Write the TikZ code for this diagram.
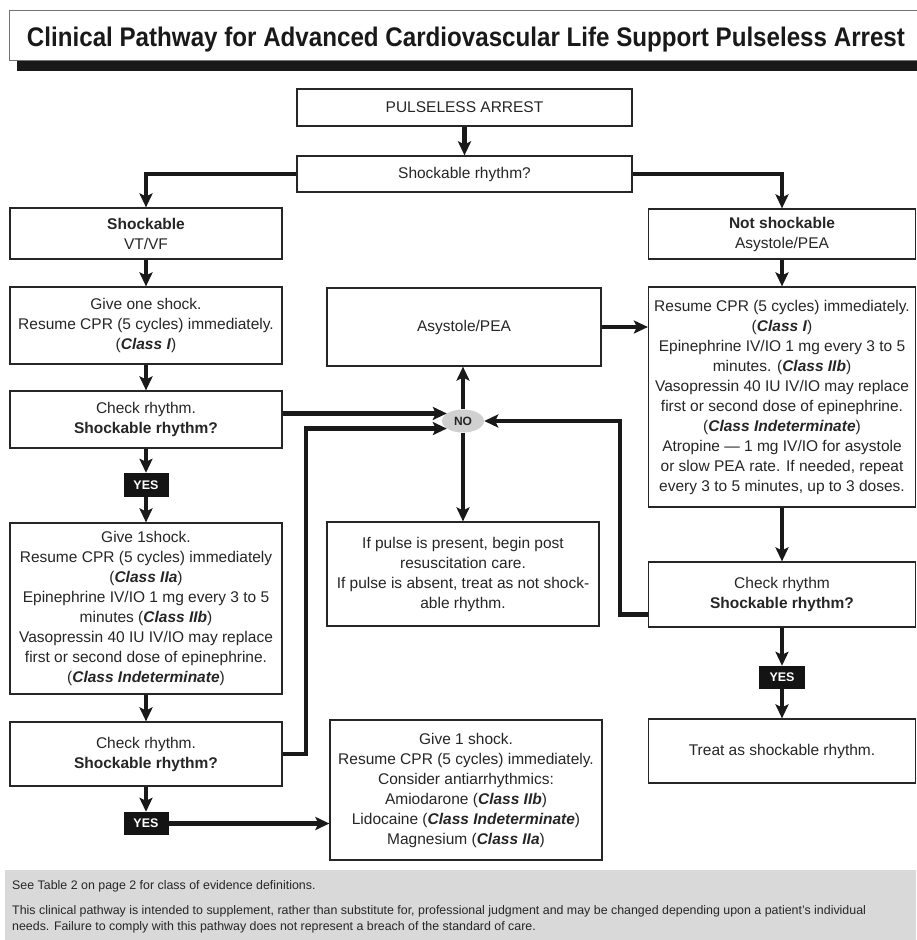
\documentclass[tikz,border=0pt]{standalone}
\usepackage{fontspec}
\setmainfont{Liberation Sans}
\usetikzlibrary{arrows.meta,shapes.geometric,calc}
\definecolor{ink}{HTML}{262626}
\definecolor{nogray}{HTML}{D0D0D0}
\definecolor{footgray}{HTML}{D9D9D9}
\newcommand{\bicls}[1]{\textbf{\textit{#1}}}
\newcommand{\bodyfont}{\fontsize{15.5pt}{20pt}\selectfont}
\tikzset{
  box/.style={draw=ink, line width=1.2pt, fill=white, align=center, text=ink,
    font=\bodyfont, inner sep=2pt, minimum width=272pt},
  yesbox/.style={fill=black!92, text=white, font=\fontsize{12.5pt}{14pt}\selectfont\bfseries,
    inner sep=0pt, minimum width=45pt, minimum height=24pt},
  nobox/.style={ellipse, fill=nogray, text=ink, font=\fontsize{12pt}{14pt}\selectfont\bfseries,
    inner sep=0pt, minimum width=42pt, minimum height=23pt},
  arr/.style={line width=4.2pt, draw=black!90, -{Stealth[length=14pt,width=13pt,inset=3pt]}},
  foot/.style={anchor=base west, inner sep=0pt, text=ink, font=\fontsize{12.4pt}{14pt}\selectfont}
}
\begin{document}
\begin{tikzpicture}[x=1pt,y=-1pt]
\useasboundingbox (0,0) rectangle (916,940);
% title
\fill[black!90] (17,20) rectangle (930,71);
\node[draw=black!55, line width=1pt, fill=white, minimum width=921pt, minimum height=50pt, inner sep=0pt] (titlebox) at (469.5,35) {};
\node[anchor=base, inner sep=0pt, text=black!90] (title) at (466,46)
  {\resizebox{878pt}{19.5pt}{\bfseries Clinical Pathway for Advanced Cardiovascular Life Support Pulseless Arrest}};
% nodes
\node[box, minimum width=335pt, minimum height=37pt] (pa) at (464.5,107.5) {PULSELESS ARREST};
\node[box, minimum width=335pt, minimum height=36pt] (sr) at (464.5,174) {Shockable rhythm?};
\node[box, minimum height=51pt] (sh) at (146,233.5) {\textbf{Shockable}\\VT/VF};
\node[box, minimum width=267pt, minimum height=50pt] (ns) at (782,234) {\textbf{Not shockable}\\Asystole/PEA};
\node[box, minimum height=77pt] (g1) at (146,325.5) {Give one shock.\\Resume CPR (5 cycles) immediately.\\(\bicls{Class I})};
\node[box, minimum height=57pt] (c1) at (146,419.5) {Check rhythm.\\\textbf{Shockable rhythm?}};
\node[yesbox] (y1) at (146,485) {YES};
\node[box, minimum height=171pt] (g2) at (146,608.5) {Give 1shock.\\Resume CPR (5 cycles) immediately\\(\bicls{Class IIa})\\Epinephrine IV/IO 1 mg every 3 to 5\\minutes (\bicls{Class IIb})\\Vasopressin 40 IU IV/IO may replace\\first or second dose of epinephrine.\\(\bicls{Class Indeterminate})};
\node[box, minimum height=64pt] (c2) at (146,754) {Check rhythm.\\\textbf{Shockable rhythm?}};
\node[yesbox, minimum height=23pt] (y2) at (146,823.5) {YES};
\node[box, minimum width=274pt, minimum height=78pt] (as) at (464,327) {Asystole/PEA};
\node[nobox] (no) at (463,421) {NO};
\node[box, minimum height=104pt] (ip) at (463,574) {If pulse is present, begin post\\resuscitation care.\\If pulse is absent, treat as not shock-\\able rhythm.};
\node[box, minimum width=267pt, minimum height=220pt] (rb) at (782,397) {Resume CPR (5 cycles) immediately.\\(\bicls{Class I})\\Epinephrine IV/IO 1 mg every 3 to 5\\minutes. (\bicls{Class IIb})\\Vasopressin 40 IU IV/IO may replace\\first or second dose of epinephrine.\\(\bicls{Class Indeterminate})\\Atropine — 1 mg IV/IO for asystole\\or slow PEA rate. If needed, repeat\\every 3 to 5 minutes, up to 3 doses.};
\node[box, minimum width=267pt, minimum height=65pt] (c3) at (782,594.5) {Check rhythm\\\textbf{Shockable rhythm?}};
\node[yesbox, minimum width=46pt, minimum height=23pt] (y3) at (782,677.5) {YES};
\node[box, minimum width=267pt, minimum height=64pt] (tr) at (782,751) {Treat as shockable rhythm.};
\node[box, minimum height=140pt] (g3) at (466,790) {Give 1 shock.\\Resume CPR (5 cycles) immediately.\\Consider antiarrhythmics:\\Amiodarone (\bicls{Class IIb})\\Lidocaine (\bicls{Class Indeterminate})\\Magnesium (\bicls{Class IIa})};
\coordinate (j1) at (306,0);
\coordinate (j2) at (620,0);
% connectors
\draw[arr] (pa) -- (sr);
\draw[arr] (sr.west) -| (sh.north);
\draw[arr] (sr.east) -| (ns.north);
\draw[arr] (sh) -- (g1);
\draw[arr] (g1) -- (c1);
\draw[arr] (c1) -- (y1);
\draw[arr] (y1) -- (g2);
\draw[arr] (g2) -- (c2);
\draw[arr] (c2) -- (y2);
\draw[arr] (y2.east) -- (y2.east -| g3.west);
\draw[arr] (c1.east |- no.155) -- (no.155);
\draw[arr] (c2.east) -| (j1 |- no.205) -- (no.205);
\draw[arr] (no.north) -- (no.north |- as.south);
\draw[arr] (no.south) -- (no.south |- ip.north);
\draw[arr] (as.east) -- (as.east -| rb.west);
\draw[arr] (ns) -- (rb);
\draw[arr] (rb) -- (c3);
\draw[arr] (c3) -- (y3);
\draw[arr] (y3) -- (tr);
\draw[arr] ($(c3.west)+(0,20)$) -| (j2 |- no.east) -- (no.east);
% footer
\fill[footgray] (5,870) rectangle (916,940);
\node[foot] (f1) at (12,889) {See Table 2 on page 2 for class of evidence definitions.};
\node[foot] (f2) at (12,914) {This clinical pathway is intended to supplement, rather than substitute for, professional judgment and may be changed depending upon a patient's individual};
\node[foot] (f3) at (12,930) {needs. Failure to comply with this pathway does not represent a breach of the standard of care.};
\end{tikzpicture}
\end{document}
